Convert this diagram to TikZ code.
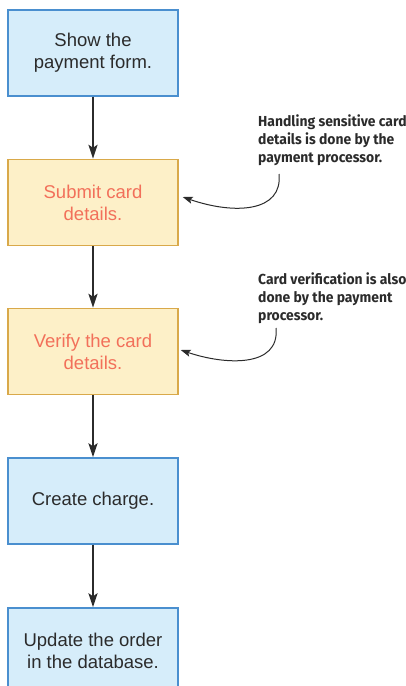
\documentclass[tikz,border=0pt]{standalone}
\usepackage{fontspec}
\setmainfont{Liberation Sans}
\newfontfamily\annfont{Fira Sans}[FakeStretch=0.96]
\usetikzlibrary{arrows.meta,calc}
\definecolor{bluefill}{HTML}{D6EDFA}
\definecolor{blueline}{HTML}{4A8FCF}
\definecolor{yelfill}{HTML}{FDF0C8}
\definecolor{yelline}{HTML}{D9A94A}
\definecolor{redtext}{HTML}{F2705A}
\definecolor{darktext}{HTML}{2B2B2B}
\tikzset{
  stepbox/.style={draw=blueline, fill=bluefill, line width=1.4pt, minimum width=170pt, minimum height=86pt,
    inner sep=0pt, align=center, text=darktext, font=\fontsize{18.5}{22}\selectfont},
  procbox/.style={stepbox, draw=yelline, fill=yelfill, text=redtext},
  flow/.style={line width=2pt, draw=darktext, -{Stealth[length=14pt,width=9pt,inset=3pt]}},
  note/.style={anchor=north west, inner sep=0pt, align=left, text=darktext, font=\annfont\bfseries\fontsize{14.5}{18}\selectfont},
  notearrow/.style={line width=1pt, draw=darktext, -{Stealth[length=10pt,width=7pt,inset=2pt]}}
}
\begin{document}
\begin{tikzpicture}[x=1pt,y=-1pt]
\useasboundingbox (0,0) rectangle (406,686);
\begin{scope}
\clip (0,0) rectangle (406,686);
\node[stepbox] (b1) at (93,53) {Show the\\payment form.};
\node[procbox] (b2) at (93,202.5) {Submit card\\details.};
\node[procbox] (b3) at (93,351.5) {Verify the card\\details.};
\node[stepbox] (b4) at (93,501) {Create charge.};
\node[stepbox] (b5) at (93,651) {Update the order\\in the database.};
\end{scope}
\draw[flow] (b1.south) -- (b2.north);
\draw[flow] (b2.south) -- (b3.north);
\draw[flow] (b3.south) -- (b4.north);
\draw[flow] (b4.south) -- (b5.north);
\node[note] (n1) at (258,115) {Handling sensitive card\\details is done by the\\payment processor.};
\node[note] (n2) at (258,273) {Card verification is also\\done by the payment\\processor.};
\coordinate (c1) at (279,174);
\coordinate (c2) at (276,328);
\draw[notearrow] (c1) .. controls (283,212) and (235,215) .. ($(b2.east)+(4,-5.5)$);
\draw[notearrow] (c2) .. controls (280,368) and (225,365) .. ($(b3.east)+(2,-1.5)$);
\end{tikzpicture}
\end{document}
